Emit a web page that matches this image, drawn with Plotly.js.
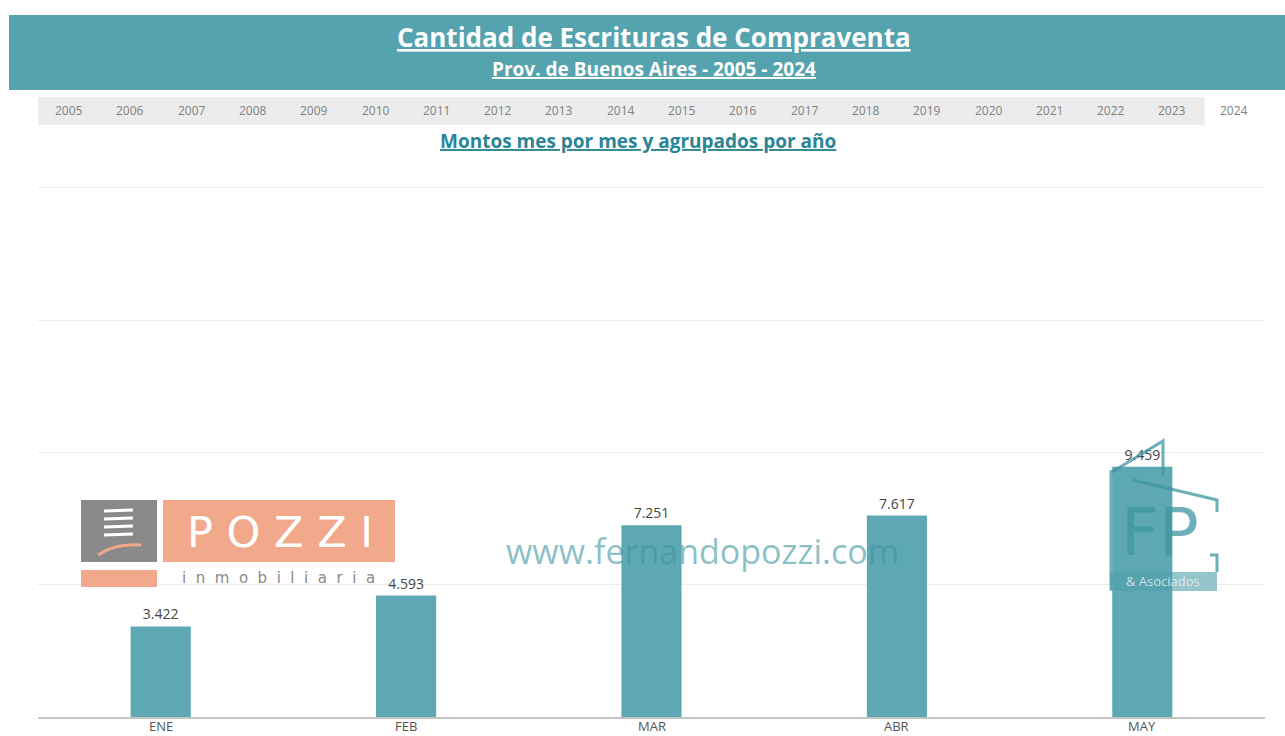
<!DOCTYPE html>
<html><head><meta charset="utf-8">
<script src="https://cdn.plot.ly/plotly-3.0.1.min.js"></script>
<style>html,body{margin:0;padding:0;background:#fff}#c{width:1285px;height:736px}</style>
</head><body><div id="c"></div>
<script>
const months = ['ENE','FEB','MAR','ABR','MAY'];
const escrituras = [3422, 4593, 7251, 7617, 9459];
const years = ['2005','2006','2007','2008','2009','2010','2011','2012','2013','2014','2015','2016','2017','2018','2019','2020','2021','2022','2023','2024'];
const selectedYear = '2024';
const titleText = 'Cantidad de Escrituras de Compraventa';
const subtitleText = 'Prov. de Buenos Aires - 2005 - 2024';
const chartSubtitle = 'Montos mes por mes y agrupados por año';

const W = 1285, H = 736, L = 38, R = 20, T = 180, B = 19;
const pw = W - L - R, ph = H - T - B;
const px = x => (x - L) / pw;
const py = y => (H - B - y) / ph;

const shapes = [];
const ann = [];
// header band
shapes.push({type:'rect', xref:'paper', yref:'paper', x0:px(9), x1:px(1285), y0:py(90), y1:py(15), fillcolor:'#55a3ae', line:{width:0}, layer:'below'});
ann.push({xref:'paper', yref:'paper', x:px(654), y:py(37), text:'<b><u>'+titleText+'</u></b>', showarrow:false, font:{family:'Open Sans', size:26, color:'#ffffff'}, xanchor:'center', yanchor:'middle'});
ann.push({xref:'paper', yref:'paper', x:px(654), y:py(69), text:'<b><u>'+subtitleText+'</u></b>', showarrow:false, font:{family:'Open Sans', size:19, color:'#ffffff'}, xanchor:'center', yanchor:'middle'});
// tabs
shapes.push({type:'rect', xref:'paper', yref:'paper', x0:px(38), x1:px(1265), y0:py(125), y1:py(97), fillcolor:'#ececec', line:{width:0}, layer:'below'});
const tabW = 61.3, tab0 = 69;
years.forEach((yr, i) => {
  const cx = tab0 + i * tabW;
  if (yr === selectedYear) {
    shapes.push({type:'rect', xref:'paper', yref:'paper', x0:px(cx - 29), x1:px(1265), y0:py(125), y1:py(97), fillcolor:'#ffffff', line:{width:0}, layer:'below'});
  }
  ann.push({xref:'paper', yref:'paper', x:px(cx), y:py(111), text:yr, showarrow:false, font:{family:'Open Sans', size:12, color:'#808080'}, xanchor:'center', yanchor:'middle'});
});
ann.push({xref:'paper', yref:'paper', x:px(638), y:py(141), text:'<b><u>'+chartSubtitle+'</u></b>', showarrow:false, font:{family:'Open Sans', size:19, color:'#2a8596'}, xanchor:'center', yanchor:'middle'});

// month labels under the axis (placed at the category positions)
months.forEach(m => {
  ann.push({xref:'x', yref:'paper', x:m, y:py(736), text:m, showarrow:false, font:{family:'Open Sans', size:13, color:'#555555'}, xanchor:'center', yanchor:'bottom', borderpad:0});
});

// watermark
ann.push({xref:'paper', yref:'paper', x:px(702), y:py(551), text:'www.fernandopozzi.com', showarrow:false, font:{family:'Open Sans', size:34, color:'rgba(60,150,162,0.6)'}, xanchor:'center', yanchor:'middle'});

// POZZI logo
shapes.push({type:'rect', xref:'paper', yref:'paper', x0:px(81), x1:px(157), y0:py(562), y1:py(500), fillcolor:'#8a8a8a', line:{width:0}});
shapes.push({type:'rect', xref:'paper', yref:'paper', x0:px(163), x1:px(395), y0:py(562), y1:py(500), fillcolor:'#f2a88a', line:{width:0}});
shapes.push({type:'rect', xref:'paper', yref:'paper', x0:px(81), x1:px(157), y0:py(587), y1:py(570), fillcolor:'#f2a88a', line:{width:0}});
[510, 518, 526, 534].forEach(y => {
  shapes.push({type:'line', xref:'paper', yref:'paper', x0:px(104), x1:px(133), y0:py(y+1), y1:py(y), line:{color:'#ffffff', width:3}});
});
shapes.push({type:'path', xref:'paper', yref:'paper', path:'M '+px(98)+' '+py(555)+' Q '+px(115)+' '+py(543)+' '+px(141)+' '+py(545), line:{color:'#f2a88a', width:3}});
ann.push({xref:'paper', yref:'paper', x:px(280), y:py(532), text:'P O Z Z I', showarrow:false, font:{family:'DejaVu Sans', size:43, color:'#ffffff'}, xanchor:'center', yanchor:'middle'});
ann.push({xref:'paper', yref:'paper', x:px(278), y:py(578), text:'i&nbsp; n&nbsp; m&nbsp; o&nbsp; b&nbsp; i&nbsp; l&nbsp; i&nbsp; a&nbsp; r&nbsp; i&nbsp; a', showarrow:false, font:{family:'DejaVu Sans', size:15, color:'#8a8a8a'}, xanchor:'center', yanchor:'middle'});

// FP & Asociados logo
const fp = 'rgba(60,150,160,0.75)';
shapes.push({type:'path', xref:'paper', yref:'paper', path:'M '+px(1112)+' '+py(472)+' L '+px(1163)+' '+py(441)+' L '+px(1163)+' '+py(475), line:{color:fp, width:3}});
shapes.push({type:'path', xref:'paper', yref:'paper', path:'M '+px(1133)+' '+py(480)+' L '+px(1217)+' '+py(500)+' L '+px(1217)+' '+py(512), line:{color:fp, width:3}});
shapes.push({type:'line', xref:'paper', yref:'paper', x0:px(1111), x1:px(1111), y0:py(470), y1:py(590), line:{color:fp, width:3}});
shapes.push({type:'path', xref:'paper', yref:'paper', path:'M '+px(1210)+' '+py(555)+' L '+px(1217)+' '+py(555)+' L '+px(1217)+' '+py(572), line:{color:fp, width:3}});
shapes.push({type:'rect', xref:'paper', yref:'paper', x0:px(1110), x1:px(1217), y0:py(591), y1:py(572), fillcolor:'rgba(80,160,170,0.6)', line:{width:0}});
ann.push({xref:'paper', yref:'paper', x:px(1160), y:py(532), text:'FP', showarrow:false, font:{family:'DejaVu Sans', size:66, color:fp}, xanchor:'center', yanchor:'middle'});
ann.push({xref:'paper', yref:'paper', x:px(1163), y:py(581), text:'& Asociados', showarrow:false, font:{family:'Open Sans', size:13, color:'rgba(255,255,255,0.7)'}, xanchor:'center', yanchor:'middle'});

const data = [{
  type:'bar', x:months, y:escrituras,
  marker:{color:'#5ea8b3'},
  texttemplate:'%{y:,}', textposition:'outside', cliponaxis:false,
  textfont:{family:'Open Sans', size:14, color:'#444444'},
  hoverinfo:'x+y'
}];

const layout = {
  width:W, height:H,
  margin:{l:L, r:R, t:T, b:B, pad:0},
  paper_bgcolor:'#ffffff', plot_bgcolor:'#ffffff',
  separators:',.',
  bargap:0.755,
  showlegend:false,
  xaxis:{type:'category', showline:true, linecolor:'#c4c4c4', linewidth:2, ticks:'', showgrid:false,
         showticklabels:false, fixedrange:true},
  yaxis:{range:[0,20300], tickvals:[5000,10000,15000,20000], showticklabels:false, showgrid:true, gridcolor:'#ececec', gridwidth:1, zeroline:false, showline:false, fixedrange:true},
  shapes:shapes, annotations:ann
};
Plotly.newPlot('c', data, layout, {displayModeBar:false, staticPlot:true});
</script></body></html>
